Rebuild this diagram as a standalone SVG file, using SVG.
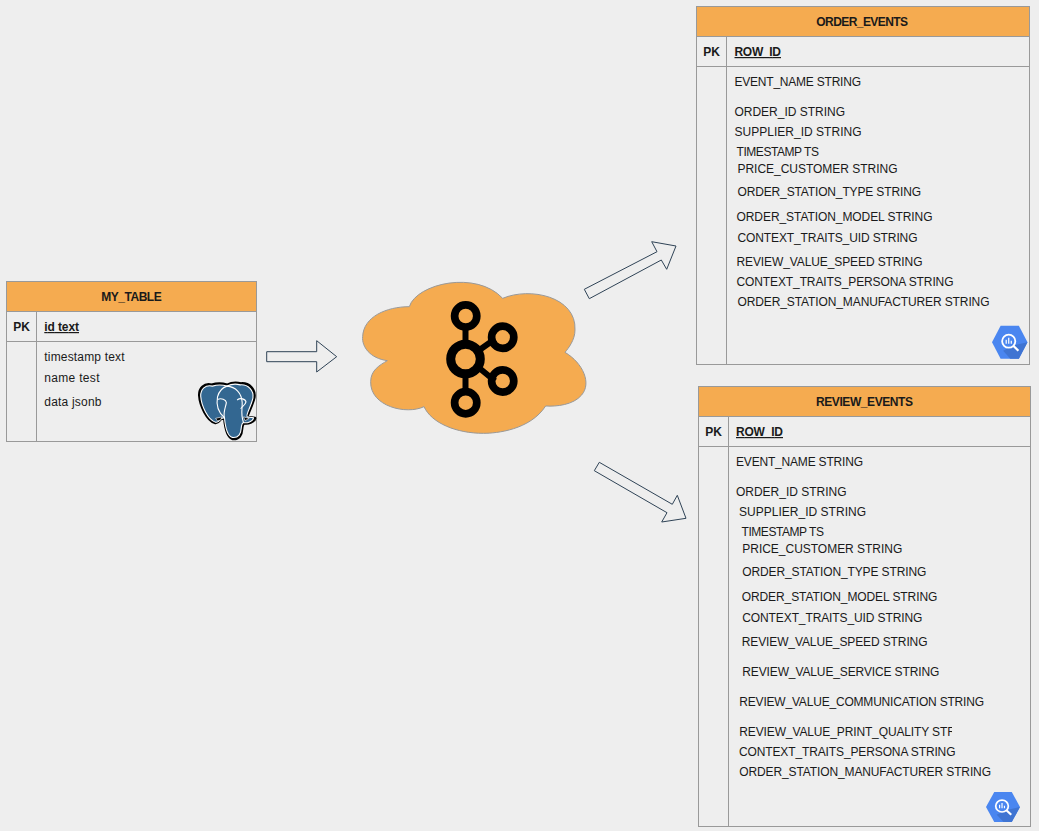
<svg xmlns="http://www.w3.org/2000/svg" width="1039" height="831" viewBox="0 0 1039 831">
<style>
text{font-family:"Liberation Sans",Arial,sans-serif;font-size:12px;fill:#1a1a1a}
.b{font-weight:bold}
.m{text-anchor:middle}
.u{text-decoration:underline}
.box{fill:none;stroke:#999;stroke-width:1}
.head{fill:#f5ab50;stroke:#999;stroke-width:1}
.line{fill:none;stroke:#999;stroke-width:1}
.arrow{fill:#eeeeee;stroke:#2f4356;stroke-width:1}
.k{fill:none;stroke:#000}
</style>
<defs>
<symbol id="bq" viewBox="0 0 35 33" preserveAspectRatio="none" overflow="visible">
<path d="M0,16.5 L8.5,0 H26.500 L35,16.500 L26.500,33 H8.500 Z" fill="#4a86f0"/>
<path d="M20,20 L35,16.500 L26.500,33 H18 L11,25 Z" fill="#3f74d2"/>
<circle cx="16.500" cy="15.500" r="6.500" fill="none" stroke="#fff" stroke-width="1.800"/>
<path d="M21,20 L26,25" stroke="#fff" stroke-width="2.200"/>
<path d="M14,14 V18 M16.500,12 V18 M19,15 V18" stroke="#fff" stroke-width="1.200"/>
</symbol>
<path id="pgBody" d="M62,28 C40,22 24,38 25,60 C27,90 48,135 72,142 C82,144 85,135 90,130 L100,128 C102,150 108,186 125,190 C145,192 152,178 153,160 C154,150 155,145 160,143 C170,146 190,140 192,128 L172,125 C165,122 185,90 190,65 C193,42 175,22 150,24 C135,20 120,22 108,28 C95,24 75,24 62,28 Z"/>
<clipPath id="printClip"><rect x="736" y="720" width="216" height="24"/></clipPath>
</defs>
<rect width="1039" height="831" fill="#eeeeee"/>

<g id="connectors">
<path class="arrow" d="M266.700,351.700 H316.700 V340.700 L336.700,356.700 L316.700,372 V361.700 H266.700 Z"/>
<path class="arrow" d="M584.300,289.300 L657,251.700 L651.700,241.700 L676,246 L666.700,269.300 L661.300,260 L589.300,298.700 Z"/>
<path class="arrow" d="M599.300,462.300 L672.300,504.300 L677.300,495.300 L686,518.300 L661.700,522 L667,512.700 L594.300,470.700 Z"/>
</g>

<g id="my_table">
<rect class="head" x="6.500" y="281.500" width="250" height="30"/>
<rect class="box" x="6.500" y="311.500" width="250" height="130"/>
<path class="line" d="M6.500,341.500 H256.500 M36.500,311.500 V441.500"/>
<text class="b m" x="131.500" y="301" textLength="60.400">MY_TABLE</text>
<text class="b m" x="21.500" y="331">PK</text>
<text class="b u" x="44.300" y="331" textLength="34.700">id text</text>
<text x="44.300" y="361" textLength="80.200">timestamp text</text>
<text x="44.300" y="382" textLength="55.200">name test</text>
<text x="44.300" y="406" textLength="57.200">data jsonb</text>
<g id="postgres_icon" transform="translate(191 375.500) scale(.33333)">
<use href="#pgBody" fill="#000" stroke="#000" stroke-width="8" stroke-linejoin="round"/>
<g transform="translate(108 105) scale(.95) translate(-108 -105)">
<use href="#pgBody" fill="#336791" stroke="#fff" stroke-width="3.500" stroke-linejoin="round"/>
<path d="M100,128 C85,115 72,95 78,62 C84,40 95,32 108,28 C135,30 155,50 156,80 C157,100 150,115 160,143" fill="none" stroke="#fff" stroke-width="3.500"/>
<path d="M78,70 C90,65 105,70 106,80 C104,95 95,110 100,128 M140,72 C150,64 166,68 168,78 C166,90 150,95 152,100" fill="none" stroke="#fff" stroke-width="3.500"/>
<path d="M72,130 L92,125 L88,135 L78,138 Z M160,125 L178,130 L165,137 Z" fill="#000" stroke="#fff" stroke-width="2"/>
</g>
</g>
</g>

<g id="kafka_cloud">
<path transform="translate(350 270) scale(.33333)" d="M178,110 C200,40 380,0 458,85 C540,50 680,80 675,180 C675,210 655,235 645,247 C700,280 725,340 695,375 C670,405 620,410 587,408 C540,480 440,490 400,490 C320,490 245,460 222,410 C170,435 60,410 62,335 C62,300 90,285 112,272 C60,265 35,230 38,200 C40,140 110,110 178,110 Z" fill="#f5ab50" stroke="#999" stroke-width="3"/>
<g class="k">
<path stroke-width="6" d="M465.500,325 V395 M478,351 L495,339 M478,367 L495,381"/>
<circle stroke-width="9" cx="465.500" cy="359" r="14.800" fill="#f5ab50"/>
<circle stroke-width="7.700" cx="465.700" cy="316" r="11.100"/>
<circle stroke-width="7.700" cx="502.700" cy="337.300" r="11.100"/>
<circle stroke-width="7.700" cx="502.700" cy="381" r="11.100"/>
<circle stroke-width="7.700" cx="465.700" cy="402.700" r="11.100"/>
</g>
</g>

<g id="order_events">
<rect class="head" x="696.500" y="6.500" width="333" height="30"/>
<rect class="box" x="696.500" y="36.500" width="333" height="328"/>
<path class="line" d="M696.500,66.500 H1029.500 M726.500,36.500 V364.500"/>
<text class="b m" x="862.200" y="26" textLength="91.700">ORDER_EVENTS</text>
<text class="b m" x="711.500" y="56">PK</text>
<text class="b u" x="734.500" y="56" textLength="46.500">ROW_ID</text>
<text x="734.500" y="86" textLength="126.500">EVENT_NAME STRING</text>
<text x="734.500" y="116" textLength="110.500">ORDER_ID STRING</text>
<text x="734.500" y="136" textLength="127">SUPPLIER_ID STRING</text>
<text x="736.500" y="156" textLength="82.500">TIMESTAMP TS</text>
<text x="737.500" y="173" textLength="160">PRICE_CUSTOMER STRING</text>
<text x="737.500" y="196" textLength="183.500">ORDER_STATION_TYPE STRING</text>
<text x="736.500" y="221" textLength="196">ORDER_STATION_MODEL STRING</text>
<text x="737.500" y="242" textLength="180">CONTEXT_TRAITS_UID STRING</text>
<text x="736.500" y="266" textLength="186">REVIEW_VALUE_SPEED STRING</text>
<text x="736.500" y="286" textLength="217">CONTEXT_TRAITS_PERSONA STRING</text>
<text x="737.500" y="306" textLength="252">ORDER_STATION_MANUFACTURER STRING</text>
<use id="bigquery_order" href="#bq" x="992" y="325.700" width="35.500" height="33"/>
</g>

<g id="review_events">
<rect class="head" x="698.500" y="386.500" width="332" height="30"/>
<rect class="box" x="698.500" y="416.500" width="332" height="410"/>
<path class="line" d="M698.500,446.500 H1030.500 M728.500,416.500 V826.500"/>
<text class="b m" x="864.500" y="406" textLength="97">REVIEW_EVENTS</text>
<text class="b m" x="713.500" y="436">PK</text>
<text class="b u" x="736" y="436" textLength="47">ROW_ID</text>
<text x="736" y="466" textLength="127">EVENT_NAME STRING</text>
<text x="736" y="496" textLength="110.500">ORDER_ID STRING</text>
<text x="739" y="516" textLength="127">SUPPLIER_ID STRING</text>
<text x="741.500" y="536" textLength="82.500">TIMESTAMP TS</text>
<text x="742.300" y="553" textLength="160">PRICE_CUSTOMER STRING</text>
<text x="742.300" y="576" textLength="184">ORDER_STATION_TYPE STRING</text>
<text x="741.700" y="601" textLength="195.600">ORDER_STATION_MODEL STRING</text>
<text x="742.300" y="622" textLength="180">CONTEXT_TRAITS_UID STRING</text>
<text x="741.700" y="646" textLength="185.800">REVIEW_VALUE_SPEED STRING</text>
<text x="742.300" y="676" textLength="197">REVIEW_VALUE_SERVICE STRING</text>
<text x="739.300" y="706" textLength="244.700">REVIEW_VALUE_COMMUNICATION STRING</text>
<text x="739.300" y="736" textLength="237.500" clip-path="url(#printClip)">REVIEW_VALUE_PRINT_QUALITY STRING</text>
<text x="739" y="756" textLength="216.500">CONTEXT_TRAITS_PERSONA STRING</text>
<text x="739.300" y="776" textLength="251.700">ORDER_STATION_MANUFACTURER STRING</text>
<use id="bigquery_review" href="#bq" x="986" y="792" width="34" height="30"/>
</g>
</svg>
